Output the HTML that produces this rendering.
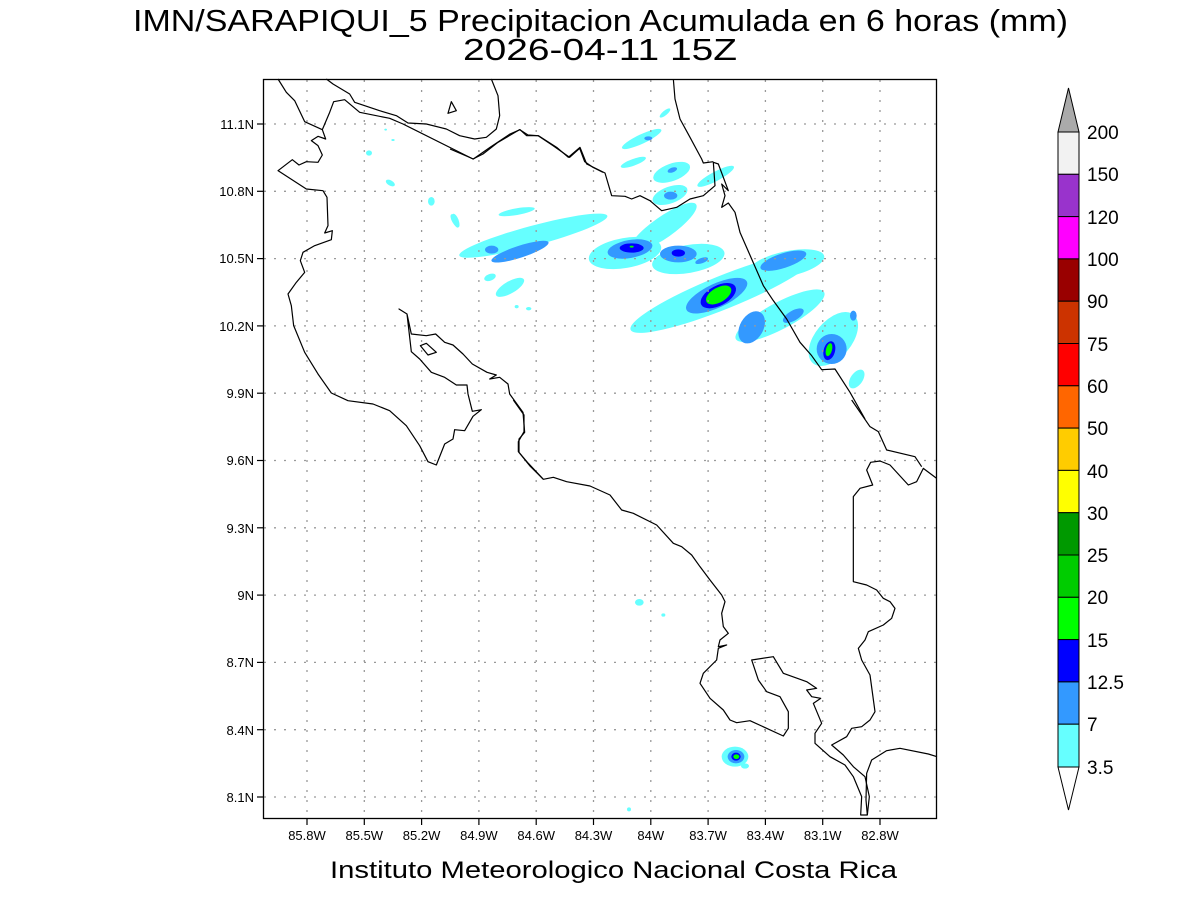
<!DOCTYPE html>
<html><head><meta charset="utf-8"><style>
html,body{margin:0;padding:0;background:#fff}
svg{display:block}
text{font-family:"Liberation Sans",sans-serif;fill:#000}
</style></head><body>
<svg width="1200" height="900" viewBox="0 0 1200 900" xmlns="http://www.w3.org/2000/svg">
<rect width="1200" height="900" fill="#fff"/>
<text x="133" y="31" font-size="31" textLength="935" lengthAdjust="spacingAndGlyphs">IMN/SARAPIQUI_5 Precipitacion Acumulada en 6 horas (mm)</text>
<text x="463" y="60" font-size="31" textLength="274" lengthAdjust="spacingAndGlyphs">2026-04-11 15Z</text>

<!-- precipitation zoom2 coords -->
<g transform="translate(450,79) scale(0.33333)">
 <g fill="#66ffff">
  <ellipse cx="250" cy="470" rx="230" ry="30" transform="rotate(-15 250 470)"/>
  <ellipse cx="200" cy="398" rx="55" ry="10" transform="rotate(-10 200 398)"/>
  <ellipse cx="575" cy="180" rx="65" ry="14" transform="rotate(-25 575 180)"/>
  <ellipse cx="550" cy="250" rx="40" ry="10" transform="rotate(-20 550 250)"/>
  <ellipse cx="665" cy="280" rx="58" ry="26" transform="rotate(-20 665 280)"/>
  <ellipse cx="797" cy="292" rx="62" ry="14" transform="rotate(-28 797 292)"/>
  <ellipse cx="645" cy="102" rx="20" ry="7" transform="rotate(-40 645 102)"/>
  <ellipse cx="660" cy="348" rx="55" ry="25" transform="rotate(-20 660 348)"/>
  <ellipse cx="525" cy="522" rx="110" ry="45" transform="rotate(-10 525 522)"/>
  <ellipse cx="640" cy="445" rx="120" ry="32" transform="rotate(-35 640 445)"/>
  <ellipse cx="715" cy="540" rx="110" ry="42" transform="rotate(-10 715 540)"/>
  <ellipse cx="820" cy="640" rx="300" ry="50" transform="rotate(-22 820 640)"/>
  <ellipse cx="990" cy="710" rx="150" ry="40" transform="rotate(-28 990 710)"/>
  <ellipse cx="1010" cy="555" rx="115" ry="38" transform="rotate(-12 1010 555)"/>
  <ellipse cx="1150" cy="780" rx="95" ry="55" transform="rotate(-50 1150 780)"/>
  <ellipse cx="1220" cy="900" rx="18" ry="32" transform="rotate(35 1220 900)"/>
  <ellipse cx="180" cy="625" rx="48" ry="18" transform="rotate(-30 180 625)"/>
  <ellipse cx="15" cy="425" rx="9" ry="22" transform="rotate(-30 15 425)"/>
  <ellipse cx="120" cy="595" rx="18" ry="10" transform="rotate(-20 120 595)"/>
  <ellipse cx="200" cy="683" rx="6" ry="5"/>
  <ellipse cx="236" cy="689" rx="8" ry="5"/>
 </g>
 <g fill="#3399ff">
  <ellipse cx="540" cy="510" rx="68" ry="27" transform="rotate(-10 540 510)"/>
  <ellipse cx="685" cy="525" rx="55" ry="25"/>
  <ellipse cx="210" cy="518" rx="90" ry="18" transform="rotate(-18 210 518)"/>
  <ellipse cx="125" cy="512" rx="20" ry="12"/>
  <ellipse cx="800" cy="650" rx="100" ry="36" transform="rotate(-25 800 650)"/>
  <ellipse cx="1000" cy="545" rx="72" ry="22" transform="rotate(-18 1000 545)"/>
  <ellipse cx="905" cy="745" rx="35" ry="52" transform="rotate(30 905 745)"/>
  <ellipse cx="1030" cy="710" rx="35" ry="15" transform="rotate(-30 1030 710)"/>
  <ellipse cx="1145" cy="810" rx="45" ry="45"/>
  <ellipse cx="667" cy="273" rx="15" ry="7" transform="rotate(-20 667 273)"/>
  <ellipse cx="662" cy="350" rx="20" ry="12"/>
  <ellipse cx="595" cy="178" rx="12" ry="6"/>
  <ellipse cx="755" cy="545" rx="20" ry="8" transform="rotate(-20 755 545)"/>
  <ellipse cx="1210" cy="710" rx="10" ry="15"/>
 </g>
 <g fill="#0000ff">
  <ellipse cx="545" cy="507" rx="36" ry="14"/>
  <ellipse cx="685" cy="522" rx="20" ry="11"/>
  <ellipse cx="805" cy="650" rx="58" ry="30" transform="rotate(-28 805 650)"/>
  <ellipse cx="1138" cy="815" rx="17" ry="29" transform="rotate(15 1138 815)"/>
 </g>
 <g fill="#00ff00">
  <ellipse cx="806" cy="648" rx="42" ry="22" transform="rotate(-30 806 648)"/>
  <ellipse cx="1137" cy="812" rx="9" ry="20" transform="rotate(15 1137 812)"/>
  <ellipse cx="545" cy="503" rx="6" ry="3"/>
 </g>
</g>
<!-- zoom1 specks -->
<g transform="translate(263,79) scale(0.33333)" fill="#66ffff">
 <ellipse cx="318" cy="222" rx="9" ry="8"/>
 <ellipse cx="382" cy="312" rx="15" ry="8" transform="rotate(30 382 312)"/>
 <ellipse cx="505" cy="367" rx="10" ry="13"/>
 <ellipse cx="578" cy="425" rx="9" ry="22" transform="rotate(-20 578 425)"/>
 <ellipse cx="368" cy="152" rx="4" ry="3"/>
 <ellipse cx="390" cy="183" rx="5" ry="3"/>
</g>
<!-- zoom3 blobs -->
<g transform="translate(500,400) scale(0.33333)">
 <ellipse cx="705" cy="1070" rx="40" ry="30" fill="#66ffff"/>
 <ellipse cx="735" cy="1098" rx="12" ry="8" fill="#66ffff"/>
 <ellipse cx="708" cy="1070" rx="25" ry="20" fill="#3399ff"/>
 <ellipse cx="708" cy="1070" rx="14" ry="12" fill="#0000ff"/>
 <ellipse cx="709" cy="1070" rx="9" ry="7" fill="#00ff00"/>
 <ellipse cx="418" cy="607" rx="13" ry="10" fill="#66ffff"/>
 <ellipse cx="490" cy="645" rx="6" ry="5" fill="#66ffff"/>
 <ellipse cx="387" cy="1228" rx="6" ry="6" fill="#66ffff"/>
</g>

<!-- gridlines -->
<g stroke="#999" stroke-width="1.3" stroke-dasharray="2,8">
 <line x1="307" y1="80" x2="307" y2="818"/><line x1="364.3" y1="80" x2="364.3" y2="818"/>
 <line x1="421.6" y1="80" x2="421.6" y2="818"/><line x1="478.9" y1="80" x2="478.9" y2="818"/>
 <line x1="536.2" y1="80" x2="536.2" y2="818"/><line x1="593.5" y1="80" x2="593.5" y2="818"/>
 <line x1="650.8" y1="80" x2="650.8" y2="818"/><line x1="708.1" y1="80" x2="708.1" y2="818"/>
 <line x1="765.4" y1="80" x2="765.4" y2="818"/><line x1="822.7" y1="80" x2="822.7" y2="818"/>
 <line x1="880" y1="80" x2="880" y2="818"/>
 <line x1="264" y1="124" x2="936" y2="124"/><line x1="264" y1="191.3" x2="936" y2="191.3"/>
 <line x1="264" y1="258.6" x2="936" y2="258.6"/><line x1="264" y1="325.9" x2="936" y2="325.9"/>
 <line x1="264" y1="393.2" x2="936" y2="393.2"/><line x1="264" y1="460.5" x2="936" y2="460.5"/>
 <line x1="264" y1="527.8" x2="936" y2="527.8"/><line x1="264" y1="595.1" x2="936" y2="595.1"/>
 <line x1="264" y1="662.4" x2="936" y2="662.4"/><line x1="264" y1="729.7" x2="936" y2="729.7"/>
 <line x1="264" y1="797" x2="936" y2="797"/>
</g>

<!-- coastlines -->
<g fill="none" stroke="#000" stroke-width="1.2" stroke-linejoin="round">
<g transform="translate(263,79) scale(0.33333)">
 <path vector-effect="non-scaling-stroke" d="M45,0 L70,40 95,65 125,128 178,152 188,180 165,172 145,185 165,200 178,228 165,250 130,248 108,258 88,242 45,275 130,330 180,335 192,355 195,440 185,462 208,455 205,482 155,500 120,520 112,545 125,580 100,610 75,645 85,680 92,740 125,820 165,885 205,942 255,965 330,975 380,995 430,1040 470,1100 495,1148 520,1158 545,1095 570,1080 575,1052 605,1055 630,1012 655,992 628,997 615,945 612,918 580,918 545,895 505,880 470,840 445,818 432,705 408,690 432,705 445,765 490,770 518,765 545,790 570,798 600,825 628,855 672,880 700,888 680,900 710,895 735,915 740,945 780,1000 785,1060 768,1080 768,1120 800,1160 840,1200"/>
 <path vector-effect="non-scaling-stroke" d="M472,800 L490,793 520,820 495,828 Z"/>
 <path vector-effect="non-scaling-stroke" d="M555,103 L565,68 580,95 Z"/>
 <path vector-effect="non-scaling-stroke" d="M190,0 L210,15 260,45 275,70 350,95 400,110 435,132 490,135 550,150 590,170 635,180 670,175 700,150 710,110 705,50 685,0"/>
 <path vector-effect="non-scaling-stroke" d="M178,152 L200,100 212,68 245,62 290,100 380,118 420,135 630,240 660,225 705,190 770,152 795,168 825,170 870,200 920,235 950,208 965,248 990,265 1020,280"/>
</g>
<g transform="translate(450,79) scale(0.33333)">
 <path vector-effect="non-scaling-stroke" d="M0,210 L70,240 120,205 180,165 210,152 230,170 265,170 320,205 355,235 390,205 410,255 465,282 485,350 525,352 545,360 570,350 600,365 635,395 680,385 720,360 760,350 795,320 790,250 805,255 835,335 815,315 825,350 815,385 835,372 855,400 870,460 905,540 940,620 970,665 1010,720 1050,790 1085,830 1115,872 1155,870 1200,940 1245,1020"/>
 <path vector-effect="non-scaling-stroke" d="M670,0 L675,60 690,120 720,175 755,240 760,252 790,248"/>
</g>
<g transform="translate(500,400) scale(0.33333)">
 <path vector-effect="non-scaling-stroke" d="M40,0 L72,45 72,95 55,125 55,155 85,190 130,238 160,232 200,245 270,258 330,285 365,330 400,340 470,375 520,430 545,440 575,465 600,500 630,540 665,585 675,605 665,640 670,680 685,700 660,720 655,740 680,735 655,745 650,780 610,820 600,850 630,895 670,930 690,960 710,968 750,962 850,1008 865,985 865,935 840,890 800,875 775,840 755,780 820,770 850,820 920,845 950,865 920,870 935,890 962,895 940,910 965,970 945,1000 945,1030 990,1070 1035,1095 1060,1130 1085,1190 1082,1245 1102,1245 1108,1190 1095,1130 1060,1100 1030,1065 995,1035 1040,1010 1055,985 1085,980 1110,960 1125,935 1110,825 1085,780 1075,745 1095,720 1105,695 1150,675 1175,655 1185,625 1170,605 1150,595 1130,570 1100,555 1060,545 1060,290 1080,265 1118,255 1100,210 1112,187 1140,183 1170,195 1225,255 1250,245 1270,205 1310,235"/>
 <path vector-effect="non-scaling-stroke" d="M1055,0 L1110,80 1135,95 1160,150 1245,170 1265,200"/>
 <path vector-effect="non-scaling-stroke" d="M1311,1070 L1285,1062 1200,1045 1160,1052 1115,1080 1100,1120 1098,1200 1102,1245"/>
</g>
</g>

<!-- frame -->
<rect x="263.5" y="79.5" width="673" height="739" fill="none" stroke="#000" stroke-width="1.3"/>
<!-- ticks -->
<g stroke="#000" stroke-width="1.2">
 <line x1="307" y1="819" x2="307" y2="825"/><line x1="364.3" y1="819" x2="364.3" y2="825"/><line x1="421.6" y1="819" x2="421.6" y2="825"/><line x1="478.9" y1="819" x2="478.9" y2="825"/><line x1="536.2" y1="819" x2="536.2" y2="825"/><line x1="593.5" y1="819" x2="593.5" y2="825"/><line x1="650.8" y1="819" x2="650.8" y2="825"/><line x1="708.1" y1="819" x2="708.1" y2="825"/><line x1="765.4" y1="819" x2="765.4" y2="825"/><line x1="822.7" y1="819" x2="822.7" y2="825"/><line x1="880" y1="819" x2="880" y2="825"/>
 <line x1="257" y1="124" x2="263" y2="124"/><line x1="257" y1="191.3" x2="263" y2="191.3"/><line x1="257" y1="258.6" x2="263" y2="258.6"/><line x1="257" y1="325.9" x2="263" y2="325.9"/><line x1="257" y1="393.2" x2="263" y2="393.2"/><line x1="257" y1="460.5" x2="263" y2="460.5"/><line x1="257" y1="527.8" x2="263" y2="527.8"/><line x1="257" y1="595.1" x2="263" y2="595.1"/><line x1="257" y1="662.4" x2="263" y2="662.4"/><line x1="257" y1="729.7" x2="263" y2="729.7"/><line x1="257" y1="797" x2="263" y2="797"/>
</g>
<g font-size="13" text-anchor="middle">
 <text x="307" y="840">85.8W</text><text x="364.3" y="840">85.5W</text><text x="421.6" y="840">85.2W</text><text x="478.9" y="840">84.9W</text><text x="536.2" y="840">84.6W</text><text x="593.5" y="840">84.3W</text><text x="650.8" y="840">84W</text><text x="708.1" y="840">83.7W</text><text x="765.4" y="840">83.4W</text><text x="822.7" y="840">83.1W</text><text x="880" y="840">82.8W</text>
</g>
<g font-size="13" text-anchor="end">
 <text x="254" y="129">11.1N</text><text x="254" y="196">10.8N</text><text x="254" y="263">10.5N</text><text x="254" y="331">10.2N</text><text x="254" y="398">9.9N</text><text x="254" y="465">9.6N</text><text x="254" y="533">9.3N</text><text x="254" y="600">9N</text><text x="254" y="667">8.7N</text><text x="254" y="735">8.4N</text><text x="254" y="802">8.1N</text>
</g>
<text x="330" y="878" font-size="24" textLength="567" lengthAdjust="spacingAndGlyphs" fill="#333">Instituto Meteorologico Nacional Costa Rica</text>

<!-- colorbar -->
<g stroke="#000" stroke-width="1">
 <polygon points="1058,132 1079,132 1068.5,88" fill="#aaaaaa"/>
 <rect x="1058" y="132" width="21" height="42.3" fill="#f2f2f2"/>
 <rect x="1058" y="174.3" width="21" height="42.3" fill="#9933cc"/>
 <rect x="1058" y="216.6" width="21" height="42.3" fill="#ff00ff"/>
 <rect x="1058" y="258.9" width="21" height="42.3" fill="#990000"/>
 <rect x="1058" y="301.2" width="21" height="42.3" fill="#cc3300"/>
 <rect x="1058" y="343.5" width="21" height="42.3" fill="#ff0000"/>
 <rect x="1058" y="385.8" width="21" height="42.3" fill="#ff6600"/>
 <rect x="1058" y="428.1" width="21" height="42.3" fill="#ffcc00"/>
 <rect x="1058" y="470.4" width="21" height="42.3" fill="#ffff00"/>
 <rect x="1058" y="512.7" width="21" height="42.3" fill="#009900"/>
 <rect x="1058" y="555" width="21" height="42.3" fill="#00cc00"/>
 <rect x="1058" y="597.3" width="21" height="42.3" fill="#00ff00"/>
 <rect x="1058" y="639.6" width="21" height="42.3" fill="#0000ff"/>
 <rect x="1058" y="681.9" width="21" height="42.3" fill="#3399ff"/>
 <rect x="1058" y="724.2" width="21" height="42.8" fill="#66ffff"/>
 <polygon points="1058,767 1079,767 1068.5,810" fill="#fff"/>
</g>
<g font-size="19">
 <text x="1087" y="139">200</text><text x="1087" y="181">150</text><text x="1087" y="224">120</text><text x="1087" y="266">100</text><text x="1087" y="308">90</text><text x="1087" y="351">75</text><text x="1087" y="393">60</text><text x="1087" y="435">50</text><text x="1087" y="478">40</text><text x="1087" y="520">30</text><text x="1087" y="562">25</text><text x="1087" y="604">20</text><text x="1087" y="647">15</text><text x="1087" y="689">12.5</text><text x="1087" y="731">7</text><text x="1087" y="774">3.5</text>
</g>
</svg>
</body></html>
